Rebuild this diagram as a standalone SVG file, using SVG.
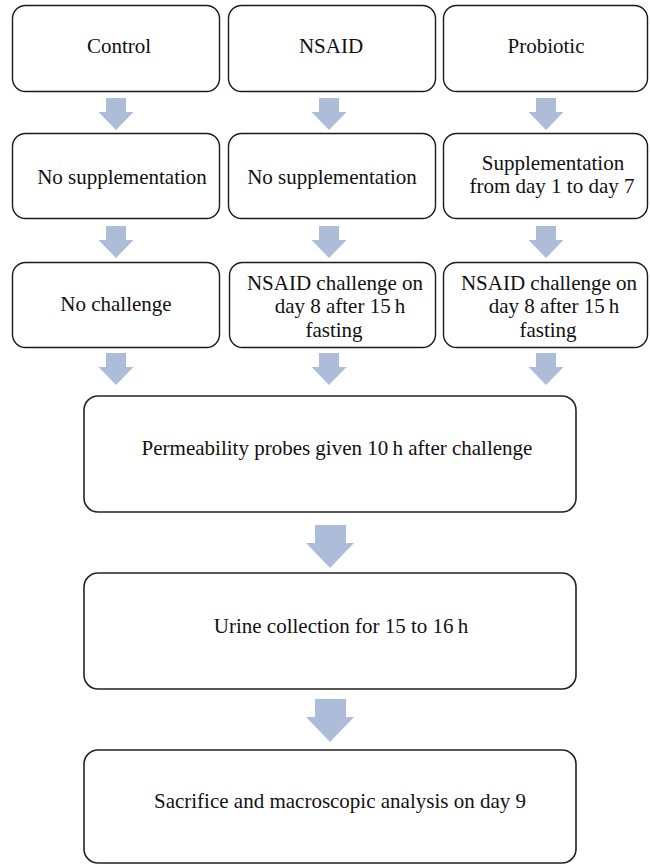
<svg xmlns="http://www.w3.org/2000/svg" width="650" height="864" viewBox="0 0 650 864">
<style>
.box{fill:#fff;stroke:#1a1a1a;stroke-width:1.4}
.big{fill:#fff;stroke:#222;stroke-width:1.6}
.t{font-family:"Liberation Serif","Times New Roman",serif;font-size:21px;fill:#111;text-anchor:middle}
.arr{fill:#adbdd9}
</style>
<rect width="650" height="864" fill="#fff"/>
<g id="connectors">
<polygon class="arr" points="106,98 126,98 126,112 133.5,112 116,130 98.5,112 106,112"/>
<polygon class="arr" points="319,98 339,98 339,112 346.5,112 329,130 311.5,112 319,112"/>
<polygon class="arr" points="536,98 556,98 556,112 563.5,112 546,130 528.5,112 536,112"/>
<polygon class="arr" points="106,226 126,226 126,240 133.5,240 116,258 98.5,240 106,240"/>
<polygon class="arr" points="319,226 339,226 339,240 346.5,240 329,258 311.5,240 319,240"/>
<polygon class="arr" points="536,226 556,226 556,240 563.5,240 546,258 528.5,240 536,240"/>
<polygon class="arr" points="106,353 126,353 126,367 133.5,367 116,385 98.5,367 106,367"/>
<polygon class="arr" points="319,353 339,353 339,367 346.5,367 329,385 311.5,367 319,367"/>
<polygon class="arr" points="536,353 556,353 556,367 563.5,367 546,385 528.5,367 536,367"/>
<polygon class="arr" points="315,525 346,525 346,543 354,543 330,568 306,543 315,543"/>
<polygon class="arr" points="315,699 346,699 346,717 354,717 330,742 306,717 315,717"/>
</g>
<g id="control"><rect class="box" x="12.5" y="5.5" width="207" height="86" rx="13"/><text class="t" x="119" y="53">Control</text></g>
<g id="nsaid"><rect class="box" x="228.5" y="5.5" width="207" height="86" rx="13"/><text class="t" x="331" y="53">NSAID</text></g>
<g id="probiotic"><rect class="box" x="443.5" y="5.5" width="204" height="86" rx="13"/><text class="t" x="546" y="53">Probiotic</text></g>
<g id="nosup1"><rect class="box" x="12.5" y="133.5" width="207" height="85" rx="13"/><text class="t" x="122" y="184">No supplementation</text></g>
<g id="nosup2"><rect class="box" x="228.5" y="133.5" width="207" height="85" rx="13"/><text class="t" x="332" y="184">No supplementation</text></g>
<g id="sup3"><rect class="box" x="443.5" y="133.5" width="204" height="85" rx="13"/><text class="t" x="553" y="170">Supplementation</text><text class="t" x="552" y="193">from day 1 to day 7</text></g>
<g id="nochal"><rect class="box" x="12.5" y="262.5" width="207" height="85" rx="13"/><text class="t" x="116" y="311">No challenge</text></g>
<g id="chal2"><rect class="box" x="229.5" y="262.5" width="206" height="85" rx="13"/><text class="t" x="335" y="290">NSAID challenge on</text><text class="t" x="340" y="313">day 8 after 15&#8201;h</text><text class="t" x="334" y="337">fasting</text></g>
<g id="chal3"><rect class="box" x="443.5" y="262.5" width="204" height="85" rx="13"/><text class="t" x="549" y="290">NSAID challenge on</text><text class="t" x="554" y="313">day 8 after 15&#8201;h</text><text class="t" x="548" y="337">fasting</text></g>
<g id="perm"><rect class="big" x="84" y="396" width="492" height="116" rx="14"/><text class="t" x="337" y="455">Permeability probes given 10&#8201;h after challenge</text></g>
<g id="urine"><rect class="big" x="84" y="573" width="492" height="116" rx="14"/><text class="t" x="341" y="633">Urine collection for 15 to 16&#8201;h</text></g>
<g id="sacrifice"><rect class="big" x="84" y="750" width="492" height="113" rx="14"/><text class="t" x="340" y="808">Sacrifice and macroscopic analysis on day 9</text></g>
</svg>
